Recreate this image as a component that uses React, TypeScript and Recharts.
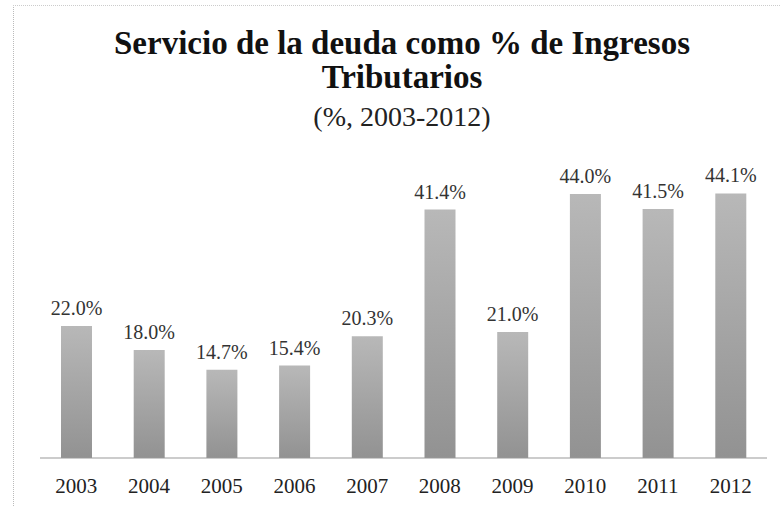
import { Bar, BarChart, LabelList, XAxis, YAxis } from "recharts";

const years = ["2003", "2004", "2005", "2006", "2007", "2008", "2009", "2010", "2011", "2012"];
const debtService = [22.0, 18.0, 14.7, 15.4, 20.3, 41.4, 21.0, 44.0, 41.5, 44.1];

const data = years.map((year, idx) => ({ year, value: debtService[idx] }));

const serif = "'Liberation Serif', 'DejaVu Serif', serif";

const titleLine = {
  position: "absolute" as const,
  left: 12,
  width: 780,
  textAlign: "center" as const,
  fontWeight: "bold" as const,
  fontSize: 33,
  lineHeight: "33px",
  color: "#111"
};

export default function App() {
  return (
    <div style={{ position: "absolute", left: 0, top: 0, width: 780, height: 506, background: "#fff", fontFamily: serif, overflow: "hidden" }}>
      <div
        style={{
          position: "absolute",
          left: 13,
          top: 5,
          width: 790,
          height: 520,
          borderLeft: "1px dotted #bbb",
          borderTop: "1px dotted #ccc"
        }}
      />
      <div style={{ ...titleLine, top: 27 }}>Servicio de la deuda como % de Ingresos</div>
      <div style={{ ...titleLine, top: 61 }}>Tributarios</div>
      <div style={{ position: "absolute", left: 12, width: 780, top: 101, textAlign: "center", fontSize: 28, color: "#222" }}>
        (%, 2003-2012)
      </div>
      <BarChart
        width={780}
        height={506}
        data={data}
        margin={{ top: 158, right: 13, bottom: 18, left: 40 }}
        barSize={31}
        style={{ position: "absolute", left: 0, top: 0 }}
      >
        <defs>
          <linearGradient id="barFill" x1="0" y1="0" x2="0" y2="1">
            <stop offset="0%" stopColor="#b8b8b8" />
            <stop offset="100%" stopColor="#929292" />
          </linearGradient>
        </defs>
        <XAxis
          dataKey="year"
          height={30}
          tickLine={false}
          tickMargin={14}
          axisLine={{ stroke: "#999", strokeWidth: 1 }}
          tick={{ fill: "#222", fontSize: 21, fontFamily: serif }}
        />
        <YAxis hide domain={[0, 50]} />
        <Bar dataKey="value" fill="url(#barFill)" isAnimationActive={false}>
          <LabelList
            dataKey="value"
            position="top"
            offset={11}
            formatter={(v: number) => `${v.toFixed(1)}%`}
            style={{ fill: "#333", fontSize: 20, fontFamily: serif }}
          />
        </Bar>
      </BarChart>
    </div>
  );
}
